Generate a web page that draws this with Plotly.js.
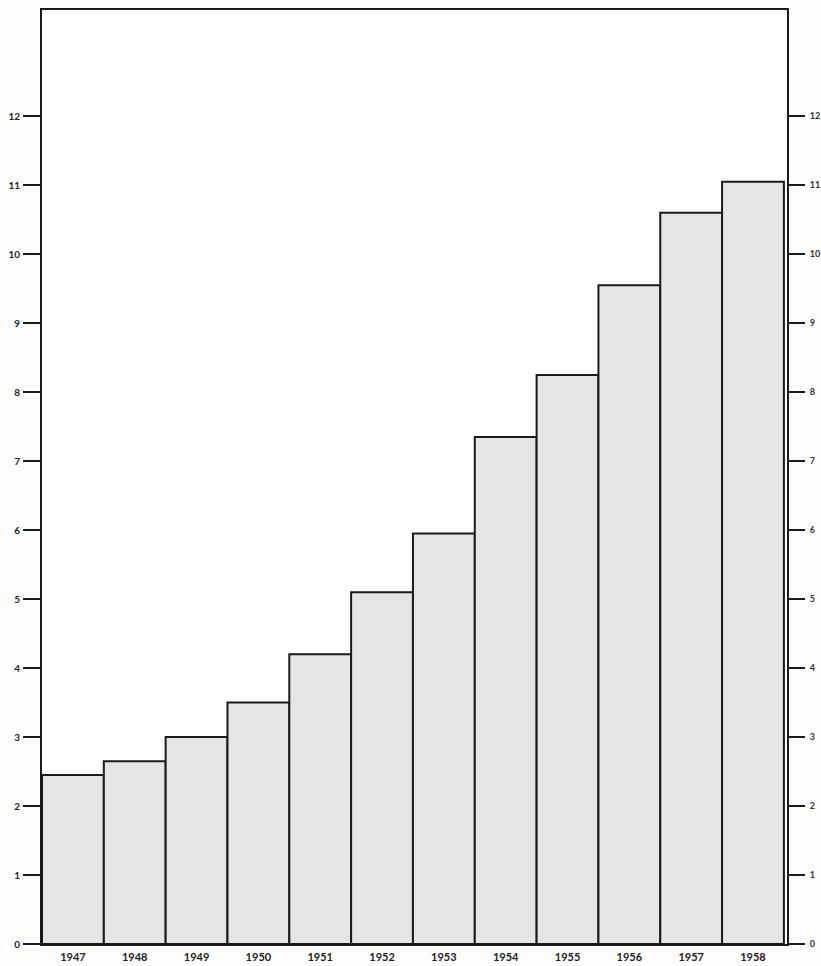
<!DOCTYPE html>
<html>
<head>
<meta charset="utf-8">
<script src="https://cdn.plot.ly/plotly-3.0.1.min.js"></script>
<style>html,body{margin:0;padding:0;background:#fdfdfb;}#chart{width:821px;height:966px;}</style>
</head>
<body>
<div id="chart"></div>
<script>
const years = ["1947","1948","1949","1950","1951","1952","1953","1954","1955","1956","1957","1958"];
const values = [2.45, 2.65, 3.0, 3.5, 4.2, 5.1, 5.95, 7.35, 8.25, 9.55, 10.6, 11.05];
const yTicks = [0,1,2,3,4,5,6,7,8,9,10,11,12];
const yTickLabels = ["0","1","2","3","4","5","6","7","8","9","10","11","12"];

const data = [{
  type: "bar",
  x: years,
  y: values,
  marker: {
    color: "#e3e5e7",
    line: {color: "#1a1a1a", width: 2}
  },
  hoverinfo: "x+y",
  showlegend: false
}, {
  type: "scatter",
  x: [years[0]],
  y: [0],
  yaxis: "y2",
  mode: "markers",
  marker: {opacity: 0},
  showlegend: false,
  hoverinfo: "skip"
}];

const yRange = [0, 13.54];

const layout = {
  width: 821,
  height: 966,
  margin: {l: 42, r: 34, t: 10, b: 22},
  paper_bgcolor: "#fdfdfb",
  plot_bgcolor: "#ffffff",
  bargap: 0,
  xaxis: {
    type: "category",
    range: [-0.5, 11.55],
    showline: true,
    mirror: true,
    linecolor: "#1a1a1a",
    linewidth: 2,
    ticks: "",
    showgrid: false,
    zeroline: false,
    tickfont: {family: "Lato, 'Open Sans', sans-serif", size: 11, color: "#222", weight: "bold"},
    ticklabelstandoff: 2
  },
  yaxis: {
    range: yRange,
    tickvals: yTicks,
    ticktext: yTickLabels,
    ticks: "outside",
    ticklen: 17,
    tickwidth: 2,
    tickcolor: "#1a1a1a",
    showline: true,
    linecolor: "#1a1a1a",
    linewidth: 2,
    showgrid: false,
    zeroline: false,
    tickfont: {family: "Lato, 'Open Sans', sans-serif", size: 10, color: "#222", weight: "bold"},
    ticklabelstandoff: 1
  },
  yaxis2: {
    overlaying: "y",
    side: "right",
    range: yRange,
    tickvals: yTicks,
    ticktext: yTickLabels,
    ticks: "outside",
    ticklen: 16,
    tickwidth: 2,
    tickcolor: "#1a1a1a",
    showline: true,
    linecolor: "#1a1a1a",
    linewidth: 2,
    showgrid: false,
    zeroline: false,
    tickfont: {family: "Lato, 'Open Sans', sans-serif", size: 9, color: "#333", weight: "bold"},
    ticklabelstandoff: 3
  }
};

Plotly.newPlot("chart", data, layout, {displayModeBar: false, staticPlot: true});
</script>
</body>
</html>
